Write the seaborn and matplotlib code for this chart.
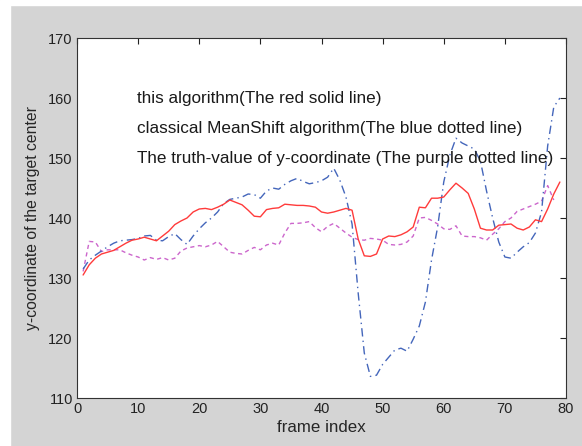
import numpy as np
import pandas as pd
import seaborn as sns
import matplotlib
matplotlib.use("Agg")
import matplotlib.pyplot as plt
from matplotlib.patches import Rectangle

# values
red_y = [130.5, 132.2, 133.3, 134.0, 134.3, 134.6, 135.2, 135.8, 136.3, 136.5,
         136.8, 136.5, 136.2, 137.0, 137.8, 138.9, 139.5, 140.0, 141.0, 141.5,
         141.6, 141.4, 141.8, 142.3, 143.0, 142.6, 142.2, 141.3, 140.3, 140.2,
         141.4, 141.6, 141.7, 142.3, 142.2, 142.1, 142.1, 142.0, 141.8, 141.0,
         140.8, 141.0, 141.3, 141.6, 141.3, 136.5, 133.7, 133.6, 134.0, 136.5,
         137.0, 136.9, 137.2, 137.7, 138.5, 141.8, 141.7, 143.3, 143.3, 143.5,
         144.7, 145.8, 145.0, 144.1, 141.5, 138.3, 138.0, 138.0, 138.8, 138.9,
         139.0, 138.3, 138.0, 138.5, 139.7, 139.4, 141.5, 144.0, 146.0]

blue_y = [131.5, 133.0, 133.8, 134.5, 135.2, 135.8, 136.2, 136.3, 136.4, 136.6,
          137.0, 137.1, 136.3, 136.2, 136.9, 137.4, 136.4, 135.6, 137.0, 138.2,
          139.2, 140.0, 141.0, 142.4, 143.1, 143.3, 143.5, 144.0, 143.9, 143.3,
          144.5, 145.0, 144.8, 145.6, 146.2, 146.6, 146.1, 145.7, 145.9, 146.2,
          146.8, 148.3, 146.3, 143.5, 139.0, 127.5, 117.5, 113.6, 113.8, 115.6,
          116.8, 118.0, 118.3, 117.8, 119.8, 122.0, 126.0, 133.0, 138.5, 146.0,
          150.5, 153.3, 152.5, 152.0, 151.5, 149.5, 144.5, 140.0, 136.0, 133.5,
          133.3, 134.3, 135.2, 135.9, 137.5, 141.0, 152.0, 158.5, 160.0]

purple_y = [131.1, 136.1, 136.0, 134.4, 134.7, 134.7, 134.7, 134.2, 133.8, 133.5,
            133.0, 133.4, 133.1, 133.4, 133.0, 133.3, 134.5, 135.0, 135.2, 135.4,
            135.2, 135.5, 136.1, 135.2, 134.3, 134.1, 134.0, 134.6, 135.1, 134.7,
            135.5, 135.8, 135.5, 137.5, 139.1, 139.1, 139.2, 139.4, 138.4, 137.7,
            138.6, 139.1, 138.3, 137.5, 136.8, 136.4, 136.3, 136.6, 136.5, 136.3,
            135.6, 135.5, 135.6, 136.0, 137.0, 140.0, 140.1, 139.6, 139.0, 138.2,
            138.1, 138.7, 137.0, 136.9, 136.9, 136.7, 136.3, 137.3, 138.2, 139.4,
            140.0, 141.1, 141.5, 141.9, 142.3, 142.8, 145.4, 143.0]

notes = ["this algorithm(The red solid line)",
         "classical MeanShift algorithm(The blue dotted line)",
         "The truth-value of y-coordinate (The purple dotted line)"]
note_y = [160, 155, 150]

red_df = pd.DataFrame({"frame": np.arange(1, len(red_y) + 1), "y": red_y})
blue_df = pd.DataFrame({"frame": np.arange(1, len(blue_y) + 1), "y": blue_y})
purple_df = pd.DataFrame({"frame": np.arange(1, len(purple_y) + 1), "y": purple_y})

sns.set_style("white")
plt.rcParams["font.family"] = ["Liberation Sans", "DejaVu Sans"]
plt.rcParams["font.size"] = 10.5

fig = plt.figure(figsize=(5.82, 4.46), dpi=100, facecolor="#d4d4d4")
# white strips on the left and top edge of the picture
fig.patches.append(Rectangle((0, 0), 10 / 582, 1, transform=fig.transFigure,
                             color="white", zorder=-10))
fig.patches.append(Rectangle((0, (446 - 5) / 446), 1, 5 / 446, transform=fig.transFigure,
                             color="white", zorder=-10))
ax = fig.add_axes([77 / 582, 48 / 446, 489 / 582, 360 / 446])
ax.set_facecolor("white")

sns.lineplot(data=purple_df, x="frame", y="y", ax=ax, color="#cc66cc",
             linewidth=1.0, linestyle=(0, (3, 2.5)))
sns.lineplot(data=blue_df, x="frame", y="y", ax=ax, color="#4466bb",
             linewidth=1.0, linestyle=(0, (6, 3, 1, 3)))
sns.lineplot(data=red_df, x="frame", y="y", ax=ax, color="#ff3b3b",
             linewidth=1.0)

for txt, yy in zip(notes, note_y):
    ax.text(9.8, yy, txt, va="center", ha="left", fontsize=12.3, color="#1a1a1a")

ax.set_xlim(0, 80)
ax.set_ylim(110, 170)
ax.set_xticks(range(0, 81, 10))
ax.set_yticks(range(110, 171, 10))
ax.tick_params(direction="in", length=4, width=0.8, top=True, right=True,
               labelsize=10.5, colors="#222222", pad=3)
for s in ax.spines.values():
    s.set_color("#333333")
    s.set_linewidth(0.8)
ax.set_xlabel("frame index", fontsize=12.2, labelpad=3)
ax.set_ylabel("y-coordinate of the target center", fontsize=11.3, labelpad=6)

fig.savefig("out.png", dpi=100, facecolor=fig.get_facecolor())
